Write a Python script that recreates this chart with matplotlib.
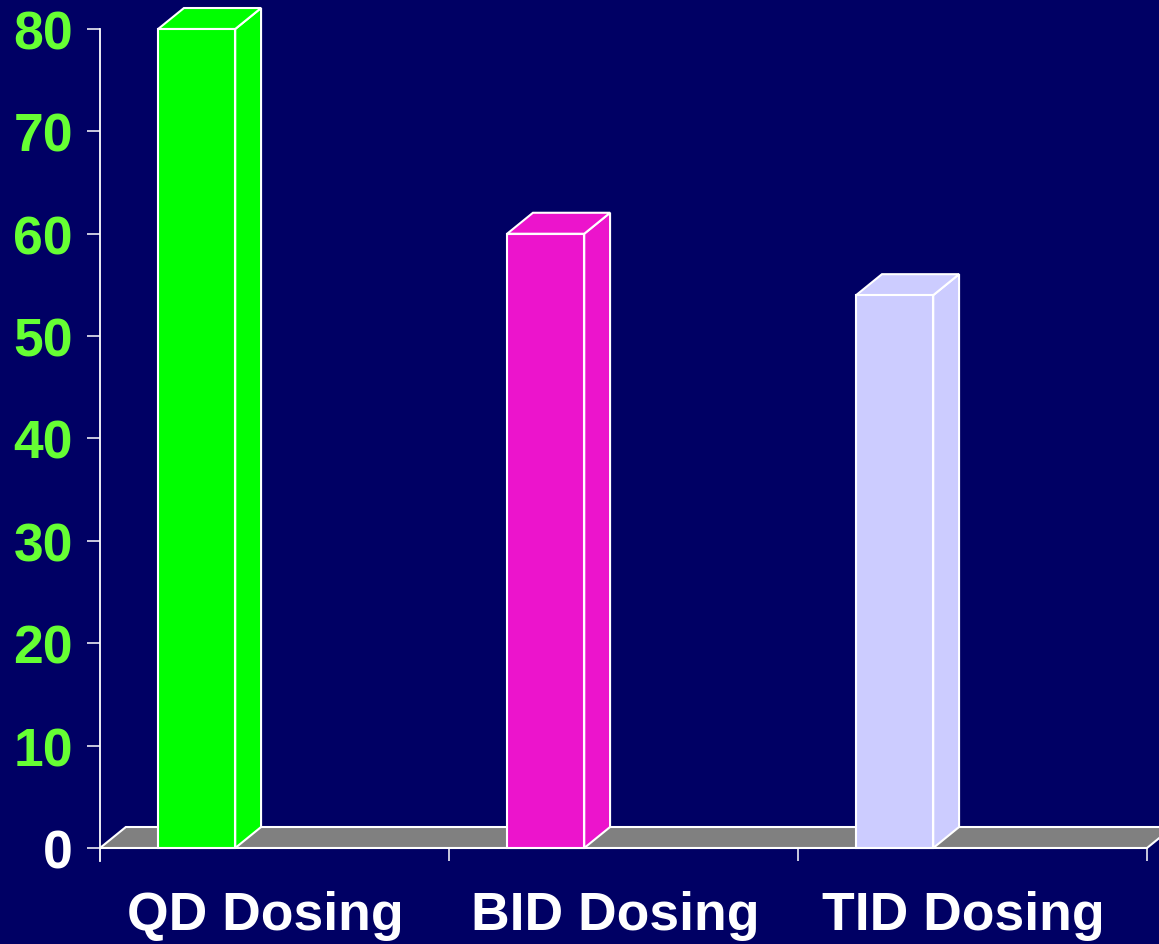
import numpy as np
import matplotlib.pyplot as plt
from matplotlib.patches import Polygon

# data
categories = ["QD Dosing", "BID Dosing", "TID Dosing"]
values = [80, 60, 54]
bar_colors = ["#00FF00", "#EC14CC", "#CCCCFF"]
yticks = [0, 10, 20, 30, 40, 50, 60, 70, 80]

bg = "#000064"
green_txt = "#66FF33"
edge = "white"

plt.rcParams['font.family'] = ['Liberation Sans', 'DejaVu Sans']

fig = plt.figure(figsize=(11.59, 9.45), dpi=100)
fig.patch.set_facecolor(bg)
ax = fig.add_axes([100/1159, 83/945, 1047/1159, 832/945])
ax.set_facecolor(bg)

ax.set_xlim(0, 3)
ax.set_ylim(-1.27, 80)

# 3d depth (in data units)
dx = 0.074
dy = 2.05
bw = 0.221
off = -0.223

# floor
floor = Polygon([(0, 0), (3, 0), (3 + dx, dy), (dx, dy)], closed=True,
                facecolor="#808080", edgecolor=edge, lw=1.5, clip_on=False, zorder=2)
ax.add_patch(floor)

for i, (v, c) in enumerate(zip(values, bar_colors)):
    x0 = i + 0.5 + off - bw/2
    x1 = x0 + bw
    front = Polygon([(x0, 0), (x1, 0), (x1, v), (x0, v)], closed=True,
                    facecolor=c, edgecolor=edge, lw=1.5, clip_on=False, zorder=4)
    side = Polygon([(x1, 0), (x1 + dx, dy), (x1 + dx, v + dy), (x1, v)], closed=True,
                   facecolor=c, edgecolor=edge, lw=1.5, clip_on=False, zorder=3)
    top = Polygon([(x0, v), (x1, v), (x1 + dx, v + dy), (x0 + dx, v + dy)], closed=True,
                  facecolor=c, edgecolor=edge, lw=1.5, clip_on=False, zorder=3)
    ax.add_patch(side)
    ax.add_patch(top)
    ax.add_patch(front)
    ax.text(i + 0.5 - 0.025, -7.9, categories[i], ha='center', va='baseline',
            color='white', fontsize=38.5, fontweight='bold')

for s in ['top', 'right', 'bottom']:
    ax.spines[s].set_visible(False)
ax.spines['left'].set_color(edge)
ax.spines['left'].set_linewidth(1.3)

ax.set_yticks(yticks)
ax.set_yticklabels([str(t) for t in yticks])
ax.tick_params(axis='y', direction='out', length=9.4, width=1.1, color=edge,
               labelsize=38.5, pad=10)
for lab in ax.get_yticklabels():
    lab.set_fontweight('bold')
    lab.set_color('white' if lab.get_text() == '0' else green_txt)

ax.set_xticks([1, 2, 3])
ax.set_xticklabels([])
ax.tick_params(axis='x', direction='in', length=9.4, width=1.1, color=edge)

fig.savefig("out.png", dpi=100, facecolor=bg)
